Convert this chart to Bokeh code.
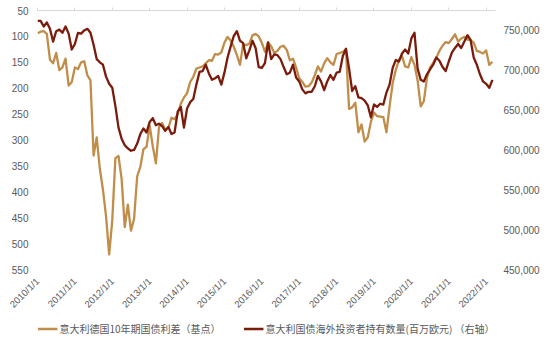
from bokeh.plotting import figure
from bokeh.layouts import column
from bokeh.models import (Range1d, LinearAxis, FixedTicker, NumeralTickFormatter,
                          Legend, LegendItem, ColumnDataSource)
from bokeh.embed import file_html
from bokeh.resources import INLINE
import math

# Monthly data, 2010/1 .. 2022/3 (month index 0..146)
spread_bp = [
    94, 91, 90, 95, 145, 152, 132, 165, 160, 143, 195, 188,            # 2010
    160, 163, 150, 148, 175, 185, 330, 295, 355, 396, 447, 521,        # 2011
    455, 335, 331, 375, 468, 425, 475, 452, 370, 352, 318, 313,        # 2012
    272, 312, 345, 275, 267, 280, 277, 257, 260, 250, 230, 218,        # 2013
    210, 188, 178, 162, 160, 158, 152, 146, 147, 134, 135, 131,        # 2014
    112, 101, 108, 120, 136, 155, 115, 117, 114, 98, 95, 100,          # 2015
    112, 130, 112, 119, 132, 128, 120, 118, 126, 146, 143, 160,        # 2016
    181, 188, 197, 196, 189, 175, 158, 168, 152, 142, 150, 155,        # 2017
    134, 132, 130, 125, 240, 237, 228, 285, 270, 303, 295, 265,        # 2018
    247, 254, 255, 256, 285, 235, 190, 165, 145, 138, 158, 160,        # 2019
    140, 155, 185, 235, 225, 180, 160, 151, 141, 128, 118, 111,        # 2020
    113, 105, 96, 110, 104, 101, 106, 107, 112, 128, 130, 133,         # 2021
    127, 155, 149,                                                     # 2022
]

holdings_mn_eur = [
    762000, 762000, 755000, 760000, 752000, 736000, 749000, 751000, 747000, 755000, 746000, 726000,
    733000, 747000, 746000, 750000, 752000, 747000, 732000, 714000, 710000, 707000, 692000, 683000,
    678000, 655000, 628000, 614000, 606000, 602000, 599000, 600000, 608000, 620000, 627000, 622000,
    635000, 640000, 631000, 633000, 630000, 624000, 629000, 620000, 622000, 648000, 654000, 628000,
    652000, 660000, 664000, 682000, 698000, 699000, 707000, 696000, 688000, 690000, 693000, 682000,
    697000, 716000, 730000, 743000, 749000, 737000, 734000, 715000, 725000, 737000, 728000, 704000,
    703000, 709000, 735000, 714000, 720000, 719000, 714000, 704000, 695000, 697000, 707000, 691000,
    686000, 676000, 671000, 673000, 673000, 680000, 693000, 686000, 675000, 686000, 694000, 688000,
    697000, 698000, 718000, 727000, 702000, 674000, 680000, 666000, 665000, 662000, 656000, 641000,
    657000, 654000, 658000, 657000, 672000, 682000, 703000, 713000, 711000, 721000, 726000, 721000,
    740000, 747000, 702000, 688000, 686000, 695000, 701000, 707000, 716000, 712000, 704000, 699000,
    711000, 722000, 728000, 733000, 728000, 736000, 744000, 738000, 716000, 707000, 695000, 686000,
    683000, 678000, 688000,
]

month_index = list(range(len(spread_bp)))
tick_months = [0, 12, 24, 36, 48, 60, 72, 84, 96, 108, 120, 132, 144]
tick_labels = ["2010/1/1", "2011/1/1", "2012/1/1", "2013/1/1", "2014/1/1", "2015/1/1",
               "2016/1/1", "2017/1/1", "2018/1/1", "2019/1/1", "2020/1/1", "2021/1/1",
               "2022/1/1"]
left_ticks = [50, 100, 150, 200, 250, 300, 350, 400, 450, 500, 550]
right_ticks = [450000, 500000, 550000, 600000, 650000, 700000, 750000]

series_names = ["意大利德国10年期国债利差（基点）",
                "意大利国债海外投资者持有数量(百万欧元) （右轴）"]

LIGHT = "#C08D4A"
DARK = "#7A1B0B"
GRAY = "#595959"
AXIS_GRAY = "#D9D9D9"
NUM_FONT = "Liberation Sans"
CJK_FONT = "Noto Sans CJK SC"

src = ColumnDataSource(dict(m=month_index, s=spread_bp, h=holdings_mn_eur))

p = figure(width=550, height=316, output_backend="svg", toolbar_location=None,
           x_range=Range1d(0, 147), y_range=Range1d(550, 50),
           min_border_left=37, min_border_right=55, min_border_top=10,
           min_border_bottom=46, x_axis_location="below")
p.extra_y_ranges = {"right": Range1d(450000, 775000)}
p.outline_line_color = None
p.xgrid.visible = False
p.ygrid.visible = False

r1 = p.line("m", "s", source=src, line_color=LIGHT, line_width=2.3, line_join="round")
r2 = p.line("m", "h", source=src, y_range_name="right", line_color=DARK, line_width=2.3,
            line_join="round")

# bottom axis: labels only
xa = p.xaxis[0]
xa.ticker = FixedTicker(ticks=tick_months)
xa.major_label_overrides = {m: lab for m, lab in zip(tick_months, tick_labels)}
xa.major_label_orientation = math.pi / 4
xa.axis_line_color = None
xa.major_tick_line_color = None
xa.major_tick_out = 0
xa.major_tick_in = 0
xa.minor_tick_line_color = None
xa.major_label_standoff = 10
xa.major_label_text_font = NUM_FONT
xa.major_label_text_font_size = "9.5px"
xa.major_label_text_color = GRAY

# top axis line with ticks (category axis crossing at 50)
top = LinearAxis(ticker=FixedTicker(ticks=tick_months))
top.axis_line_color = AXIS_GRAY
top.axis_line_width = 1
top.major_tick_line_color = AXIS_GRAY
top.major_tick_out = 3
top.major_tick_in = 0
top.minor_tick_line_color = None
top.major_label_text_font_size = "1px"
top.major_label_text_alpha = 0
top.major_label_standoff = 0
p.add_layout(top, "above")

ya = p.yaxis[0]
ya.ticker = FixedTicker(ticks=left_ticks)
ya.axis_line_color = None
ya.major_tick_line_color = None
ya.major_tick_out = 0
ya.major_tick_in = 0
ya.minor_tick_line_color = None
ya.major_label_standoff = 9
ya.major_label_text_font = NUM_FONT
ya.major_label_text_font_size = "10px"
ya.major_label_text_color = GRAY

ra = LinearAxis(y_range_name="right", ticker=FixedTicker(ticks=right_ticks),
                formatter=NumeralTickFormatter(format="0,0"))
ra.axis_line_color = None
ra.major_tick_line_color = None
ra.major_tick_out = 0
ra.major_tick_in = 0
ra.minor_tick_line_color = None
ra.major_label_standoff = 8
ra.major_label_text_font = NUM_FONT
ra.major_label_text_font_size = "10px"
ra.major_label_text_color = GRAY
p.add_layout(ra, "right")

# legend strip underneath the chart
lp = figure(width=550, height=24, output_backend="svg", toolbar_location=None,
            x_range=Range1d(-20, -10), y_range=Range1d(0, 1),
            min_border_left=0, min_border_right=0, min_border_top=0, min_border_bottom=0)
lp.axis.visible = False
lp.grid.visible = False
lp.outline_line_color = None
l1 = lp.line("m", "s", source=src, line_color=LIGHT, line_width=2.3)
l2 = lp.line("m", "s", source=src, line_color=DARK, line_width=2.3)

legend = Legend(items=[LegendItem(label=series_names[0], renderers=[l1]),
                       LegendItem(label=series_names[1], renderers=[l2])],
                orientation="horizontal", location="center")
legend.label_text_font = CJK_FONT
legend.label_text_font_size = "10px"
legend.label_text_color = GRAY
legend.border_line_color = None
legend.background_fill_alpha = 0
legend.glyph_width = 20
legend.glyph_height = 12
legend.label_standoff = 2
legend.spacing = 23
legend.padding = 2
legend.margin = 0
legend.label_height = 12
lp.add_layout(legend, "center")

open("out.html", "w").write(file_html(column(p, lp, spacing=0), INLINE))
